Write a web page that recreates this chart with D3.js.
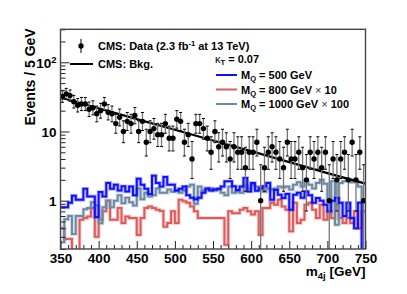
<!DOCTYPE html>
<html>
<head>
<meta charset="utf-8">
<script src="https://cdnjs.cloudflare.com/ajax/libs/d3/7.8.5/d3.min.js"></script>
<style>
	body { margin: 0; background: #fff; }
	svg { display: block; font-family: 'Liberation Sans', Arial, sans-serif; }
	.axis path { display: none; }
	.axis line { stroke: #222; stroke-width: 1; }
	.axis text { font-size: 13.5px; font-weight: bold; fill: #000; font-family: 'Liberation Sans', Arial, sans-serif; }
	.leg { font-size: 11px; font-weight: bold; fill: #000; }
</style>
</head>
<body>
<svg id="m4j-chart" width="407" height="294"></svg>
<script>
// 5 GeV bins, lower edges from 350 to 745
var binLow = d3.range(350, 750, 5);

// observed events per bin
var dataCounts = [32, 35, 33, 27, 24, 25, 25, 21, 22, 18,
	20, 25, 19, 18, 13, 16, 10, 14, 13, 17,
	10, 14, 7, 10, 11, 9, 9, 13, 8, 8,
	15, 14, 7, 9, 4, 13, 13, 11, 8, 5,
	10, 6, 7, 6, 4, 6, 5, 5, 3, 5,
	5, 7, 1, 3, 5, 6, 5, 4, 3, 7,
	4, 4, 5, 3, 2, 5, 4, 5, 3, 5,
	1, 4, 2, 4, 5, 2, 7, 2, 5, 1];

// signal templates
var sigM500 = [0.80, 0.80, 0.93, 1.18, 1.03, 1.03, 1.48, 1.15, 1.15, 0.58,
	1.33, 1.15, 1.80, 1.48, 1.70, 1.40, 1.61, 1.36, 1.60, 1.20,
	2.08, 1.70, 1.48, 1.25, 2.30, 1.80, 1.60, 2.20, 1.70, 1.70,
	1.40, 1.48, 1.60, 1.20, 1.10, 1.05, 1.10, 1.30, 1.50, 1.40,
	1.45, 1.48, 1.60, 1.90, 1.90, 1.61, 1.43, 1.60, 2.12, 1.36,
	1.80, 1.39, 1.50, 1.61, 1.80, 1.03, 1.43, 1.22, 1.09, 1.25,
	0.74, 1.22, 1.30, 1.10, 1.36, 1.20, 0.93, 1.09, 1.00, 0.875,
	0.70, 1.00, 1.09, 0.93, 0.60, 0.93, 0.56, 0.40, 0.93, 0.15];

var sigM800x10 = [0.40, 0.28, 0.28, 0.15, 0.15, 0.53, 0.56, 0.59, 0.78, 0.30,
	0.53, 0.70, 1.00, 0.53, 0.53, 0.78, 0.475, 0.59, 0.56, 0.56,
	0.32, 0.56, 0.78, 0.82, 0.78, 0.74, 0.71, 0.42, 0.475, 0.70,
	0.475, 1.03, 0.98, 0.93, 0.82, 0.70, 0.56, 0.56, 0.56, 0.56,
	0.56, 0.56, 0.56, 0.23, 0.70, 0.66, 0.66, 0.74, 0.78, 0.70,
	0.63, 0.70, 0.32, 0.78, 0.78, 0.93, 0.875, 1.03, 0.82, 0.74,
	0.36, 0.93, 0.475, 0.53, 0.875, 0.93, 0.74, 0.56, 0.875, 0.53,
	0.70, 0.56, 0.875, 0.56, 0.475, 0.56, 0.475, 0.70, 0.40, 0.70];

var sigM1000x100 = [0.25, 0.54, 0.60, 0.33, 0.60, 0.60, 0.75, 0.78, 0.95, 0.85,
	0.47, 0.80, 1.00, 0.80, 1.00, 1.20, 0.92, 1.10, 0.95, 0.85,
	1.50, 1.05, 1.30, 1.15, 1.20, 1.50, 1.30, 1.30, 1.45, 1.35,
	1.40, 1.30, 1.40, 1.60, 1.70, 0.90, 1.60, 1.40, 1.45, 1.50,
	1.40, 1.45, 1.30, 1.20, 1.60, 1.30, 1.35, 1.30, 1.65, 1.50,
	1.70, 1.60, 1.55, 1.35, 1.50, 1.45, 1.50, 1.60, 1.55, 1.60,
	1.45, 1.70, 1.85, 1.60, 1.90, 1.70, 1.50, 1.80, 2.00, 1.75,
	0.95, 1.90, 0.45, 1.80, 1.90, 2.00, 1.85, 1.90, 1.60, 0.95];

// background fit, read every 50 GeV
var bkgMass = [350, 400, 450, 500, 550, 600, 650, 700, 750];
var bkgFit = [31, 21.7, 15.1, 10.6, 7.4, 5.2, 3.6, 2.5, 1.76];

var xTicks = [350, 400, 450, 500, 550, 600, 650, 700, 750];
var yTicks = [1, 10, 100];
var yTickLabels = ['1', '10', '10^2'];

window.app = window.app || {};

app.m4jChart = (function() {

	'use strict';

	var frame = { left: 60.5, right: 365.5, top: 29.3, bottom: 249 };

	/**
	* central 68% poisson interval (garwood)
	*/
	var poissonCdf = function(n, mu) {
		var term = Math.exp(-mu), sum = term;
		for (var k = 1; k <= n; k++) {
			term *= mu / k;
			sum += term;
		}
		return sum;
	};

	var garwood = function(n) {
		var alpha = 0.158655, lo = 0, hi = n, mid, i;
		var low = 0;
		if (n > 0) {
			for (i = 0; i < 60; i++) {
				mid = (lo + hi) / 2;
				if (1 - poissonCdf(n - 1, mid) < alpha) { lo = mid; } else { hi = mid; }
			}
			low = (lo + hi) / 2;
		}
		lo = n; hi = n + 10 * Math.sqrt(n) + 10;
		for (i = 0; i < 60; i++) {
			mid = (lo + hi) / 2;
			if (poissonCdf(n, mid) > alpha) { lo = mid; } else { hi = mid; }
		}
		return [low, (lo + hi) / 2];
	};

	var createChart = function() {
		var svg = d3.select('#m4j-chart');

		var xScale = d3.scaleLinear()
			.domain([350, 750])
			.range([frame.left, frame.right]);

		var yScale = d3.scaleLog()
			.domain([0.2, 300])
			.range([frame.bottom, frame.top]);

		svg.append('rect')
			.attr('width', 407).attr('height', 294).attr('fill', '#fff');

		svg.append('clipPath').attr('id', 'frame-clip')
			.append('rect')
			.attr('x', frame.left).attr('y', frame.top)
			.attr('width', frame.right - frame.left)
			.attr('height', frame.bottom - frame.top);

		var plot = svg.append('g').attr('clip-path', 'url(#frame-clip)');

		// step histograms
		var stepLine = d3.line()
			.x(function(d) { return xScale(d[0]); })
			.y(function(d) { return yScale(d[1]); });

		var steps = function(values) {
			var pts = [];
			values.forEach(function(v, i) {
				pts.push([binLow[i], v]);
				pts.push([binLow[i] + 5, v]);
			});
			return pts;
		};

		var hists = [
			{ values: sigM800x10, color: '#dd5b5b' },
			{ values: sigM1000x100, color: '#6c8aa6' },
			{ values: sigM500, color: '#1010ff' }
		];

		hists.forEach(function(h) {
			plot.append('path')
				.attr('d', stepLine(steps(h.values)))
				.attr('fill', 'none')
				.attr('stroke', h.color)
				.attr('stroke-opacity', 0.3)
				.attr('stroke-width', 3.8);
			plot.append('path')
				.attr('d', stepLine(steps(h.values)))
				.attr('fill', 'none')
				.attr('stroke', h.color)
				.attr('stroke-width', 2);
		});

		// background fit
		plot.append('path')
			.datum(bkgMass)
			.attr('d', d3.line()
				.x(function(d) { return xScale(d); })
				.y(function(d, i) { return yScale(bkgFit[i]); }))
			.attr('fill', 'none')
			.attr('stroke', '#000')
			.attr('stroke-width', 2.2);

		// data with poisson error bars
		var pts = plot.selectAll('.data-pt')
			.data(dataCounts)
			.enter()
			.append('g')
			.attr('class', 'data-pt');

		pts.each(function(n, i) {
			var g = d3.select(this),
				cx = xScale(binLow[i] + 2.5),
				band = garwood(n),
				yUp = yScale(band[1]),
				yLo = band[0] > 0.05 ? yScale(band[0]) : frame.bottom + 5;

			g.append('line')
				.attr('x1', cx).attr('x2', cx)
				.attr('y1', yUp).attr('y2', yLo)
				.attr('stroke', '#777').attr('stroke-width', 1.3);
			g.append('line')
				.attr('x1', cx - 1.5).attr('x2', cx + 1.5)
				.attr('y1', yUp).attr('y2', yUp)
				.attr('stroke', '#000').attr('stroke-width', 1);
			g.append('line')
				.attr('x1', cx - 1.5).attr('x2', cx + 1.5)
				.attr('y1', yLo).attr('y2', yLo)
				.attr('stroke', '#000').attr('stroke-width', 1);
			g.append('circle')
				.attr('cx', cx).attr('cy', yScale(n))
				.attr('r', 2.7)
				.attr('fill', '#000');
		});

		// axes (ticks pointing inward)
		var minorX = d3.range(350, 751, 10).filter(function(v) { return v % 50 !== 0; });
		var minorY = [0.2, 0.3, 0.4, 0.5, 0.6, 0.7, 0.8, 0.9, 2, 3, 4, 5, 6, 7, 8, 9,
			20, 30, 40, 50, 60, 70, 80, 90, 200, 300];

		svg.append('g')
			.attr('class', 'axis')
			.attr('transform', 'translate(0,' + frame.bottom + ')')
			.call(d3.axisBottom(xScale).tickValues(xTicks).tickSizeInner(-8).tickSizeOuter(0).tickPadding(4));

		svg.append('g')
			.attr('class', 'axis')
			.attr('transform', 'translate(0,' + frame.bottom + ')')
			.call(d3.axisBottom(xScale).tickValues(minorX).tickSizeInner(-4).tickSizeOuter(0).tickFormat(''));

		var yAxis = svg.append('g')
			.attr('class', 'axis')
			.attr('transform', 'translate(' + frame.left + ',0)')
			.call(d3.axisLeft(yScale).tickValues(yTicks).tickSizeInner(-9).tickSizeOuter(0).tickPadding(4)
				.tickFormat(function(d, i) { return ''; }));

		yAxis.selectAll('.tick text').each(function(d, i) {
			var parts = yTickLabels[i].split('^'),
				t = d3.select(this).attr('dy', '0.36em');
			t.append('tspan').text(parts[0]);
			if (parts[1]) {
				t.append('tspan').attr('dy', '-0.45em').attr('font-size', '9.5px').text(parts[1]);
			}
		});

		svg.append('g')
			.attr('class', 'axis')
			.attr('transform', 'translate(' + frame.left + ',0)')
			.call(d3.axisLeft(yScale).tickValues(minorY).tickSizeInner(-5).tickSizeOuter(0).tickFormat(''));

		// frame
		svg.append('rect')
			.attr('x', frame.left).attr('y', frame.top)
			.attr('width', frame.right - frame.left)
			.attr('height', frame.bottom - frame.top)
			.attr('fill', 'none')
			.attr('stroke', '#444')
			.attr('stroke-width', 1.4);

		// axis titles
		var xTitle = svg.append('text')
			.attr('x', frame.right).attr('y', 276)
			.attr('text-anchor', 'end')
			.attr('font-size', '13.5px').attr('font-weight', 'bold');
		xTitle.append('tspan').text('m');
		xTitle.append('tspan').attr('dy', 3).attr('font-size', '9.5px').text('4j');
		xTitle.append('tspan').attr('dy', -3).text(' [GeV]');

		svg.append('text')
			.attr('transform', 'translate(35,' + (frame.top - 1) + ') rotate(-90)')
			.attr('text-anchor', 'end')
			.attr('font-size', '14px').attr('font-weight', 'bold')
			.text('Events / 5 GeV');

		// legend, left
		var leg = svg.append('g');
		leg.append('line').attr('x1', 81).attr('x2', 81).attr('y1', 39).attr('y2', 53)
			.attr('stroke', '#000').attr('stroke-width', 1);
		leg.append('circle').attr('cx', 81).attr('cy', 46).attr('r', 2.7).attr('fill', '#000');
		var dTxt = leg.append('text').attr('class', 'leg').attr('x', 98).attr('y', 50);
		dTxt.append('tspan').text('CMS: Data (2.3 fb');
		dTxt.append('tspan').attr('dy', -4).attr('font-size', '7.5px').text('-1');
		dTxt.append('tspan').attr('dy', 4).text(' at 13 TeV)');

		leg.append('line').attr('x1', 70).attr('x2', 93).attr('y1', 64).attr('y2', 64)
			.attr('stroke', '#000').attr('stroke-width', 2);
		leg.append('text').attr('class', 'leg').attr('x', 98).attr('y', 68).text('CMS: Bkg.');

		// legend, right
		var kTxt = leg.append('text').attr('class', 'leg').attr('x', 215).attr('y', 63);
		kTxt.append('tspan').attr('font-weight', 'normal').text('\u03ba');
		kTxt.append('tspan').attr('dy', 2).attr('font-size', '7.5px').text('T');
		kTxt.append('tspan').attr('dy', -2).text(' = 0.07');

		var sigLeg = [
			{ color: '#1010ff', mass: '500 GeV', scale: '', y: 75 },
			{ color: '#dd5b5b', mass: '800 GeV', scale: '10', y: 89.5 },
			{ color: '#6c8aa6', mass: '1000 GeV', scale: '100', y: 104 }
		];

		sigLeg.forEach(function(s) {
			leg.append('line').attr('x1', 216).attr('x2', 237).attr('y1', s.y).attr('y2', s.y)
				.attr('stroke', s.color).attr('stroke-width', 2);
			var t = leg.append('text').attr('class', 'leg').attr('x', 241).attr('y', s.y + 4);
			t.append('tspan').text('M');
			t.append('tspan').attr('dy', 2).attr('font-size', '7.5px').text('Q');
			t.append('tspan').attr('dy', -2).text(' = ' + s.mass);
			if (s.scale) {
				t.append('tspan').attr('font-weight', 'normal').attr('fill', '#333').text(' \u00d7 ');
				t.append('tspan').text(s.scale);
			}
		});
	};

	var init = function() {
		createChart();
	};

	return { init: init };

})();

app.m4jChart.init();
</script>
</body>
</html>
